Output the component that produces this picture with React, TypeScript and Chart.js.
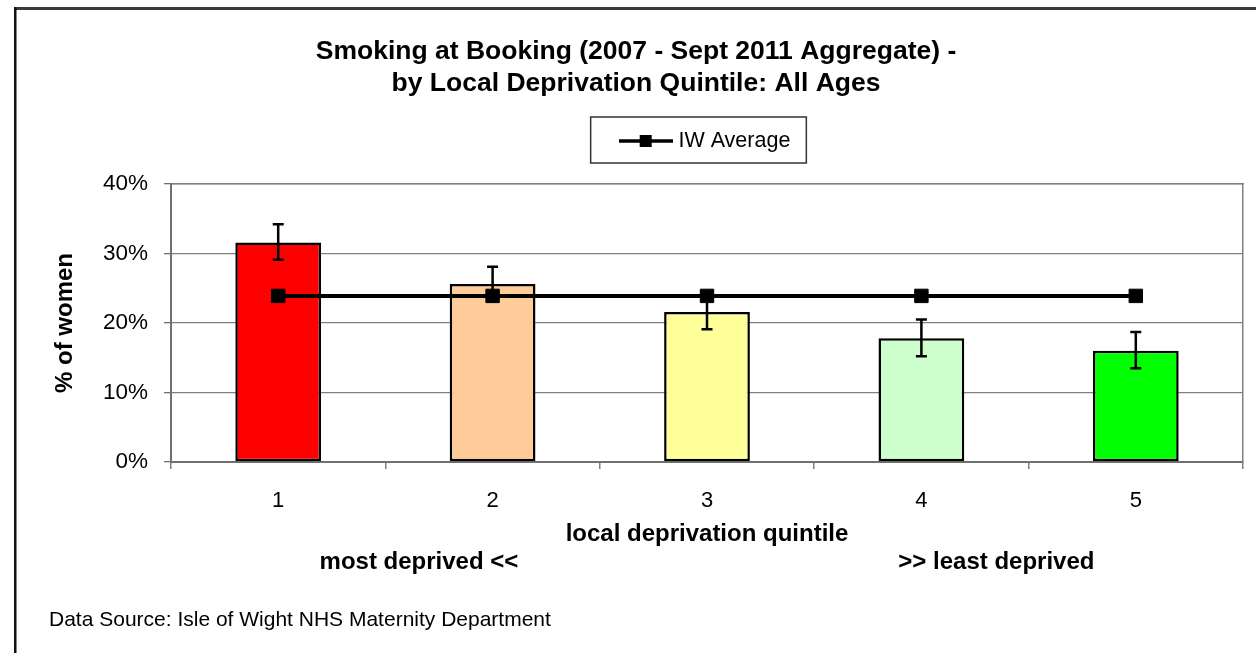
import React, { useEffect, useRef } from 'react';
import { Chart, registerables } from 'chart.js';

Chart.register(...registerables);

const FONT = '"Liberation Sans", Arial, sans-serif';

const categories = ['1', '2', '3', '4', '5'];
const smokingPct = [31.6, 25.6, 21.6, 17.8, 16.0];
const ciLower = [29.1, 23.1, 19.1, 15.2, 13.5];
const ciUpper = [34.2, 28.1, 24.1, 20.5, 18.7];
const iwAverage = [23.9, 23.9, 23.9, 23.9, 23.9];
const barColors = ['#FF0000', '#FFCC99', '#FFFF99', '#CCFFCC', '#00FF00'];
const yMin = 0;
const yMax = 40;
const yStep = 10;

const titleLines = [
  'Smoking at Booking (2007 - Sept 2011 Aggregate) -',
  'by Local Deprivation Quintile: All Ages',
];
const xTitleLines = [
  'local deprivation quintile',
  'most deprived <<' + ' '.repeat(57) + '>> least deprived',
];
const yTitle = '% of women';
const seriesName = 'IW Average';
const barSeriesName = 'Smoking at booking';
const sourceNote = 'Data Source: Isle of Wight NHS Maternity Department';

function makeLegendSymbol(): HTMLCanvasElement {
  const c = document.createElement('canvas');
  c.width = 54;
  c.height = 16;
  const g = c.getContext('2d')!;
  g.strokeStyle = '#000';
  g.lineWidth = 3.5;
  g.beginPath();
  g.moveTo(0, 8);
  g.lineTo(54, 8);
  g.stroke();
  g.fillStyle = '#000';
  g.fillRect(21, 2, 12, 12);
  return c;
}

const decorPlugin = {
  id: 'decor',
  beforeDraw(chart: any) {
    const { ctx, width, height } = chart;
    ctx.save();
    ctx.fillStyle = '#ffffff';
    ctx.fillRect(0, 0, width, height);
    // outer frame (top and left edges)
    ctx.fillStyle = '#3a3a3a';
    ctx.fillRect(14, 7, width - 14, 3);
    ctx.fillStyle = '#111111';
    ctx.fillRect(14, 7, 2.5, height - 7);
    ctx.restore();
  },
  afterDatasetDraw(chart: any, args: any) {
    if (args.index !== 0) return;
    const { ctx } = chart;
    const yScale = chart.scales.y;
    const meta = args.meta;
    ctx.save();
    ctx.strokeStyle = '#000';
    ctx.lineWidth = 2.5;
    const cap = 5.5;
    meta.data.forEach((bar: any, i: number) => {
      const x = bar.x;
      const yHi = yScale.getPixelForValue(ciUpper[i]);
      const yLo = yScale.getPixelForValue(ciLower[i]);
      ctx.beginPath();
      ctx.moveTo(x, yHi);
      ctx.lineTo(x, yLo);
      ctx.moveTo(x - cap, yHi);
      ctx.lineTo(x + cap, yHi);
      ctx.moveTo(x - cap, yLo);
      ctx.lineTo(x + cap, yLo);
      ctx.stroke();
    });
    ctx.restore();
  },
  afterDraw(chart: any) {
    const { ctx } = chart;
    ctx.save();
    const hb = chart.legend && chart.legend.legendHitBoxes && chart.legend.legendHitBoxes[0];
    if (hb) {
      const cy = hb.top + hb.height / 2;
      ctx.strokeStyle = '#333';
      ctx.lineWidth = 1.5;
      const x0 = hb.left - 33;
      const x1 = hb.left + hb.width + 16;
      ctx.strokeRect(x0, cy - 24, x1 - x0, 46);
    }
    ctx.fillStyle = '#000';
    ctx.font = `21px ${FONT}`;
    ctx.textAlign = 'left';
    ctx.textBaseline = 'middle';
    ctx.fillText(sourceNote, 49, 620);
    ctx.restore();
  },
};

export default function App() {
  const canvasRef = useRef<HTMLCanvasElement | null>(null);

  useEffect(() => {
    if (!canvasRef.current) return;
    const symbol = makeLegendSymbol();
    const chart = new Chart(canvasRef.current, {
      type: 'bar',
      data: {
        labels: categories,
        datasets: [
          {
            type: 'bar',
            label: barSeriesName,
            data: smokingPct,
            backgroundColor: barColors,
            borderColor: '#000',
            borderWidth: 2.5,
            borderSkipped: false,
            barPercentage: 0.4,
            categoryPercentage: 1,
            order: 1,
          } as any,
          {
            type: 'line',
            label: seriesName,
            data: iwAverage,
            borderColor: '#000',
            borderWidth: 4,
            pointStyle: 'rect',
            pointRadius: 9.5,
            pointBackgroundColor: '#000',
            pointBorderColor: '#000',
            pointBorderWidth: 1,
            fill: false,
            tension: 0,
            order: 0,
          } as any,
        ],
      },
      options: {
        responsive: false,
        animation: false,
        color: '#000',
        layout: { padding: { top: 10, left: 16, right: 0, bottom: 68 } },
        plugins: {
          title: {
            display: true,
            text: titleLines,
            color: '#000',
            font: { family: FONT, size: 26.5, weight: 'bold', lineHeight: 32 / 26.5 },
            padding: { top: 26, bottom: 8 },
          },
          legend: {
            display: true,
            position: 'top',
            fullSize: false,
            labels: {
              filter: (item: any) => item.datasetIndex === 1,
              usePointStyle: true,
              pointStyle: symbol,
              pointStyleWidth: 44,
              padding: 22.25,
              color: '#000',
              font: { family: FONT, size: 21.5 },
            },
          } as any,
          tooltip: { enabled: false },
        },
        scales: {
          x: {
            type: 'category',
            position: 'bottom',
            offset: true,
            grid: {
              offset: true,
              drawOnChartArea: false,
              drawTicks: true,
              tickLength: 7,
              color: '#808080',
              lineWidth: 1.5,
            },
            border: { display: true, color: '#707070', width: 2 },
            ticks: { color: '#000', font: { family: FONT, size: 22 }, padding: 19 },
            title: {
              display: true,
              text: xTitleLines,
              color: '#000',
              font: { family: FONT, size: 24, weight: 'bold', lineHeight: 28 / 24 },
              padding: { top: 0, bottom: 9 },
            },
            afterFit: (s: any) => {
              s.height = 123;
            },
          } as any,
          x2: {
            type: 'category',
            axis: 'x',
            position: 'top',
            offset: true,
            grid: { display: false },
            ticks: { display: false },
            border: { display: true, color: '#808080', width: 1.5 },
            afterFit: (s: any) => {
              s.height = 22.25;
            },
          } as any,
          y: {
            type: 'linear',
            position: 'left',
            min: yMin,
            max: yMax,
            ticks: {
              stepSize: yStep,
              callback: (v: any) => v + '%',
              color: '#000',
              font: { family: FONT, size: 22.5 },
              padding: 16,
            },
            grid: { color: '#808080', lineWidth: 1.3, tickLength: 7, tickColor: '#707070' },
            border: { display: true, color: '#707070', width: 2 },
            title: {
              display: true,
              text: yTitle,
              color: '#000',
              font: { family: FONT, size: 24, weight: 'bold' },
              padding: { top: 34.6, bottom: 0 },
            },
            afterFit: (s: any) => {
              s.width = 155;
            },
          } as any,
          y2: {
            type: 'linear',
            axis: 'y',
            position: 'right',
            min: yMin,
            max: yMax,
            grid: { display: false },
            ticks: { display: false },
            border: { display: true, color: '#808080', width: 1.5 },
            afterFit: (s: any) => {
              s.width = 13;
            },
          } as any,
        },
      },
      plugins: [decorPlugin],
    } as any);
    return () => chart.destroy();
  }, []);

  return (
    <div style={{ position: 'absolute', left: 0, top: 0, width: 1256, height: 653, background: '#fff' }}>
      <canvas ref={canvasRef} width={1256} height={653} style={{ display: 'block' }} />
    </div>
  );
}
